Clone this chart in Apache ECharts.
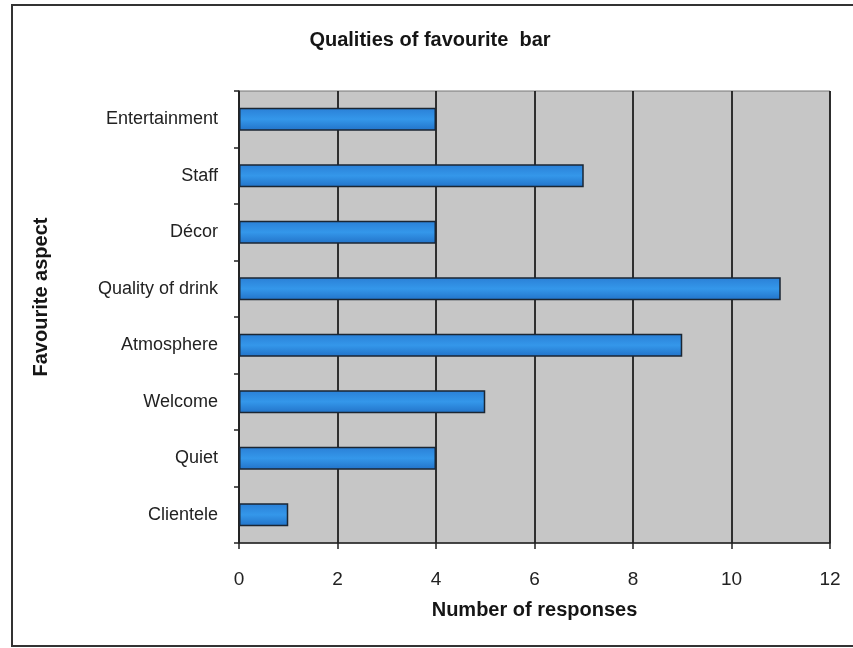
<!DOCTYPE html>
<html>
<head>
<meta charset="utf-8">
<script src="https://cdn.jsdelivr.net/npm/echarts@6/dist/echarts.min.js"></script>
<style>
  html, body { margin: 0; padding: 0; background: #ffffff; }
  #chart { width: 853px; height: 648px; }
</style>
</head>
<body>
<div id="chart"></div>
<script>
// Favourite-bar survey: aspects listed top to bottom
const aspects = ['Entertainment', 'Staff', 'Décor', 'Quality of drink', 'Atmosphere', 'Welcome', 'Quiet', 'Clientele'];
const responses = [4, 7, 4, 11, 9, 5, 4, 1];
const xTicks = [0, 2, 4, 6, 8, 10, 12];

const chart = echarts.init(document.getElementById('chart'));
const font = '"Liberation Sans", Arial, sans-serif';

chart.setOption({
  backgroundColor: '#ffffff',
  animation: false,
  title: {
    text: 'Qualities of favourite  bar',
    left: 425, top: 25, textAlign: 'center',
    textStyle: { fontFamily: font, fontSize: 20, fontWeight: 'bold', color: '#151515' }
  },
  graphic: [{
    type: 'rect',
    shape: { x: 12, y: 5, width: 900, height: 641 },
    style: { fill: 'none', stroke: '#333', lineWidth: 2 },
    silent: true
  }, {
    // vertical axis title, set slightly above the plot centre
    type: 'text',
    x: 41, y: 297,
    rotation: Math.PI / 2,
    style: {
      text: 'Favourite aspect',
      fontFamily: font, fontSize: 20, fontWeight: 'bold', fill: '#151515',
      align: 'center', verticalAlign: 'middle'
    },
    silent: true
  }],
  grid: {
    left: 239, top: 91, right: 23, bottom: 105,
    show: true, backgroundColor: '#c6c6c6', borderColor: '#777', borderWidth: 1
  },
  xAxis: {
    type: 'value',
    min: xTicks[0], max: xTicks[xTicks.length - 1], interval: 2,
    name: 'Number of responses',
    nameLocation: 'middle', nameGap: 57,
    nameTextStyle: { fontFamily: font, fontSize: 20, fontWeight: 'bold', color: '#151515' },
    axisLine: { show: true, lineStyle: { color: '#222', width: 1.5 } },
    axisTick: { show: true, length: 6, lineStyle: { color: '#222', width: 1.5 } },
    axisLabel: { fontFamily: font, fontSize: 19, color: '#222', margin: 27 },
    splitLine: { show: true, lineStyle: { color: '#1e1e1e', width: 1.8 } }
  },
  yAxis: {
    type: 'category',
    data: aspects,
    inverse: true,
    axisLine: { show: true, lineStyle: { color: '#222', width: 1.5 } },
    axisTick: { show: true, length: 5, lineStyle: { color: '#222', width: 1.5 } },
    axisLabel: { fontFamily: font, fontSize: 18, color: '#222', margin: 21 },
    splitLine: { show: false }
  },
  series: [{
    type: 'bar',
    data: responses,
    barWidth: 23,
    itemStyle: {
      color: new echarts.graphic.LinearGradient(0, 0, 0, 1, [
        { offset: 0, color: '#2a7fd6' },
        { offset: 0.5, color: '#3497ea' },
        { offset: 1, color: '#2272c8' }
      ]),
      borderColor: '#1b2633',
      borderWidth: 1.5
    }
  }]
});
</script>
</body>
</html>
